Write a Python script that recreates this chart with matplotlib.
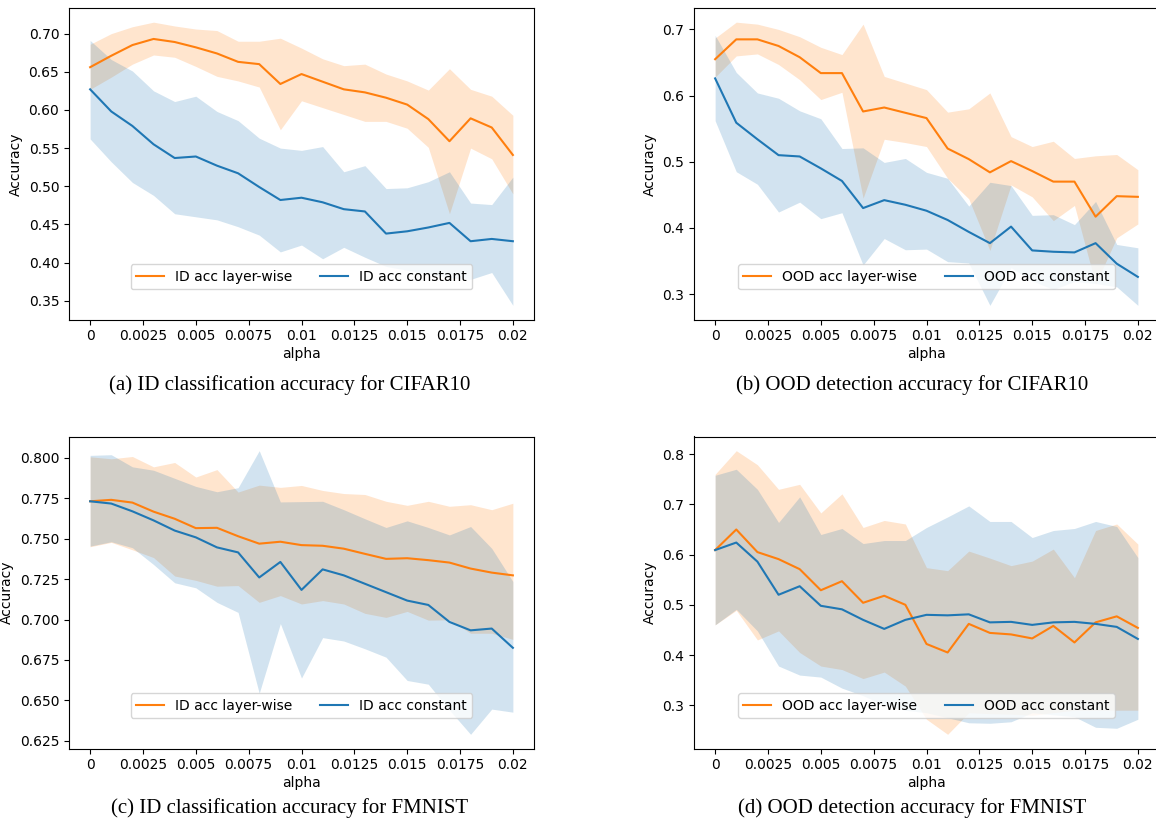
import numpy as np
import matplotlib
matplotlib.use("Agg")
import matplotlib.pyplot as plt
from matplotlib.ticker import FuncFormatter

# ----------------------------------------------- data ------------------------------------------------
alpha = [0.0, 0.001, 0.002, 0.003, 0.004, 0.005, 0.006, 0.007, 0.008, 0.009, 0.010,
         0.011, 0.012, 0.013, 0.014, 0.015, 0.016, 0.017, 0.018, 0.019, 0.020]
xtick_vals = [0, 0.0025, 0.005, 0.0075, 0.01, 0.0125, 0.015, 0.0175, 0.02]

# (a) ID accuracy CIFAR10
a_lw = [0.656, 0.671, 0.685, 0.693, 0.689, 0.682, 0.674, 0.663, 0.660, 0.634, 0.647,
        0.637, 0.627, 0.623, 0.616, 0.607, 0.588, 0.559, 0.589, 0.577, 0.541]
a_lw_hi = [0.686, 0.700, 0.709, 0.715, 0.710, 0.706, 0.704, 0.690, 0.690, 0.694, 0.681,
           0.667, 0.658, 0.660, 0.647, 0.638, 0.626, 0.654, 0.627, 0.618, 0.593]
a_lw_lo = [0.627, 0.643, 0.660, 0.672, 0.669, 0.657, 0.644, 0.638, 0.630, 0.574, 0.612,
           0.603, 0.594, 0.585, 0.585, 0.576, 0.551, 0.464, 0.550, 0.536, 0.490]
a_c = [0.627, 0.598, 0.579, 0.555, 0.537, 0.539, 0.527, 0.517, 0.499, 0.482, 0.485,
       0.479, 0.470, 0.467, 0.438, 0.441, 0.446, 0.452, 0.428, 0.431, 0.428]
a_c_hi = [0.691, 0.666, 0.651, 0.625, 0.611, 0.618, 0.598, 0.586, 0.563, 0.550, 0.547,
          0.552, 0.519, 0.527, 0.497, 0.498, 0.506, 0.519, 0.478, 0.476, 0.512]
a_c_lo = [0.562, 0.532, 0.505, 0.488, 0.464, 0.460, 0.456, 0.447, 0.436, 0.414, 0.423,
          0.405, 0.420, 0.407, 0.395, 0.390, 0.385, 0.380, 0.378, 0.387, 0.344]

# (b) OOD accuracy CIFAR10
b_lw = [0.655, 0.685, 0.685, 0.675, 0.658, 0.634, 0.634, 0.576, 0.582, 0.574, 0.566,
        0.520, 0.504, 0.484, 0.501, 0.486, 0.470, 0.470, 0.417, 0.448, 0.447]
b_lw_hi = [0.687, 0.711, 0.708, 0.700, 0.689, 0.673, 0.662, 0.708, 0.629, 0.619, 0.609,
           0.575, 0.580, 0.604, 0.538, 0.523, 0.531, 0.505, 0.509, 0.511, 0.488]
b_lw_lo = [0.628, 0.660, 0.663, 0.647, 0.624, 0.594, 0.605, 0.445, 0.534, 0.529, 0.523,
           0.475, 0.444, 0.366, 0.465, 0.447, 0.411, 0.434, 0.315, 0.385, 0.406]
b_c = [0.626, 0.559, 0.534, 0.510, 0.508, 0.490, 0.471, 0.430, 0.442, 0.435, 0.426,
       0.412, 0.394, 0.377, 0.402, 0.366, 0.364, 0.363, 0.377, 0.346, 0.326]
b_c_hi = [0.691, 0.635, 0.604, 0.596, 0.577, 0.565, 0.520, 0.521, 0.499, 0.505, 0.484,
          0.475, 0.433, 0.469, 0.464, 0.419, 0.420, 0.405, 0.440, 0.375, 0.370]
b_c_lo = [0.562, 0.485, 0.466, 0.424, 0.439, 0.414, 0.423, 0.344, 0.384, 0.367, 0.368,
          0.349, 0.347, 0.283, 0.340, 0.320, 0.307, 0.319, 0.316, 0.311, 0.283]

# (c) ID accuracy FMNIST
c_lw = [0.7731, 0.7740, 0.7723, 0.7667, 0.7623, 0.7565, 0.7567, 0.7515, 0.7469, 0.7481, 0.7460,
        0.7456, 0.7438, 0.7406, 0.7375, 0.7379, 0.7367, 0.7352, 0.7315, 0.7290, 0.7273]
c_lw_hi = [0.8006, 0.7994, 0.8008, 0.7944, 0.7971, 0.7881, 0.7927, 0.7788, 0.7831, 0.7817, 0.7829,
           0.7798, 0.7779, 0.7773, 0.7731, 0.7706, 0.7731, 0.7700, 0.7710, 0.7679, 0.7719]
c_lw_lo = [0.7450, 0.7477, 0.7431, 0.7383, 0.7269, 0.7242, 0.7206, 0.7210, 0.7106, 0.7148, 0.7096,
           0.7117, 0.7096, 0.7038, 0.7013, 0.7050, 0.6996, 0.6998, 0.6915, 0.6915, 0.6877]
c_c = [0.7731, 0.7717, 0.7669, 0.7613, 0.7550, 0.7508, 0.7446, 0.7415, 0.7260, 0.7356, 0.7183,
       0.7310, 0.7273, 0.7221, 0.7169, 0.7117, 0.7090, 0.6985, 0.6933, 0.6944, 0.6825]
c_c_hi = [0.8015, 0.8019, 0.7944, 0.7923, 0.7873, 0.7823, 0.7790, 0.7815, 0.8044, 0.7727, 0.7729,
          0.7731, 0.7679, 0.7623, 0.7569, 0.7610, 0.7569, 0.7523, 0.7575, 0.7440, 0.7235]
c_c_lo = [0.7454, 0.7481, 0.7444, 0.7340, 0.7227, 0.7196, 0.7106, 0.7044, 0.6544, 0.6975, 0.6638,
          0.6888, 0.6867, 0.6819, 0.6767, 0.6623, 0.6600, 0.6440, 0.6290, 0.6446, 0.6427]

# (d) OOD accuracy FMNIST
d_lw = [0.609, 0.650, 0.605, 0.591, 0.571, 0.529, 0.547, 0.504, 0.518, 0.500, 0.422,
        0.405, 0.462, 0.444, 0.441, 0.433, 0.458, 0.425, 0.465, 0.477, 0.454]
d_lw_hi = [0.760, 0.807, 0.779, 0.730, 0.740, 0.683, 0.721, 0.654, 0.668, 0.661, 0.574,
           0.568, 0.607, 0.593, 0.578, 0.587, 0.611, 0.554, 0.648, 0.661, 0.621]
d_lw_lo = [0.460, 0.489, 0.430, 0.448, 0.405, 0.378, 0.371, 0.353, 0.366, 0.338, 0.272,
           0.242, 0.285, 0.283, 0.282, 0.280, 0.285, 0.290, 0.290, 0.290, 0.290]
d_c = [0.609, 0.624, 0.586, 0.520, 0.537, 0.498, 0.491, 0.470, 0.452, 0.470, 0.480,
       0.479, 0.481, 0.465, 0.466, 0.460, 0.465, 0.466, 0.462, 0.456, 0.432]
d_c_hi = [0.758, 0.770, 0.730, 0.664, 0.715, 0.640, 0.652, 0.622, 0.628, 0.628, 0.654,
          0.675, 0.697, 0.666, 0.666, 0.634, 0.648, 0.652, 0.666, 0.656, 0.594]
d_c_lo = [0.460, 0.491, 0.448, 0.378, 0.360, 0.356, 0.334, 0.319, 0.300, 0.290, 0.285,
          0.275, 0.265, 0.264, 0.267, 0.285, 0.281, 0.277, 0.256, 0.254, 0.272]

captions = ["(a) ID classification accuracy for CIFAR10",
            "(b) OOD detection accuracy for CIFAR10",
            "(c) ID classification accuracy for FMNIST",
            "(d) OOD detection accuracy for FMNIST"]
labels = [("ID acc layer-wise", "ID acc constant"),
          ("OOD acc layer-wise", "OOD acc constant"),
          ("ID acc layer-wise", "ID acc constant"),
          ("OOD acc layer-wise", "OOD acc constant")]

panels = [(a_lw, a_lw_lo, a_lw_hi, a_c, a_c_lo, a_c_hi),
          (b_lw, b_lw_lo, b_lw_hi, b_c, b_c_lo, b_c_hi),
          (c_lw, c_lw_lo, c_lw_hi, c_c, c_c_lo, c_c_hi),
          (d_lw, d_lw_lo, d_lw_hi, d_c, d_c_lo, d_c_hi)]

# ----------------------------------------- figure layout ---------------------------------------------
W, H = 1156, 826
fig = plt.figure(figsize=(W / 100, H / 100), dpi=100)
plt.rcParams['font.size'] = 10

# axes boxes in pixels: left, top, right, bottom (right panels are cut by the page edge)
boxes = [(69, 8, 534, 319.5), (694, 8, 1159, 319.5),
         (69, 436.5, 534, 748.5), (694, 436.5, 1159, 748.5)]
cap_pos = [(290, 385), (912, 385), (290, 808), (912, 808)]

orange = '#ff7f0e'
blue = '#1f77b4'

for i in range(4):
    l, t, r, b = boxes[i]
    ax = fig.add_axes([l / W, 1 - b / H, (r - l) / W, (b - t) / H])
    lw, lw_lo, lw_hi, c, c_lo, c_hi = panels[i]

    ax.plot(alpha, lw, color=orange, label=labels[i][0])
    ax.fill_between(alpha, lw_lo, lw_hi, color=orange, alpha=0.2, linewidth=0)
    ax.plot(alpha, c, color=blue, label=labels[i][1])
    ax.fill_between(alpha, c_lo, c_hi, color=blue, alpha=0.2, linewidth=0)

    ax.set_xticks(xtick_vals)
    ax.xaxis.set_major_formatter(FuncFormatter(lambda v, p: '%g' % v))
    ax.set_xlabel('alpha', labelpad=3)
    ax.set_ylabel('Accuracy')
    ax.legend(loc='lower center', bbox_to_anchor=(0.5, 0.097), borderaxespad=0, ncol=2)
    if i % 2 == 1:
        ax.spines['right'].set_visible(False)   # right edge falls off the page

    fig.text(cap_pos[i][0] / W, 1 - cap_pos[i][1] / H, captions[i],
             family='Liberation Serif', fontsize=15, ha='center', va='center')

plt.savefig('out.png', dpi=100)
